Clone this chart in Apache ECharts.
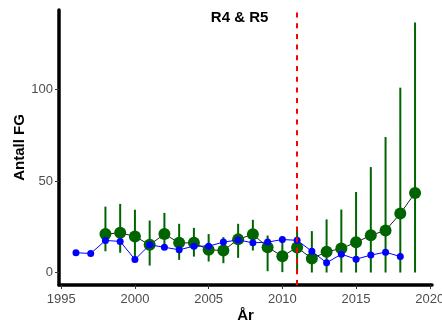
<!DOCTYPE html>
<html>
<head>
<meta charset="utf-8">
<script src="https://cdn.jsdelivr.net/npm/echarts@6/dist/echarts.min.js"></script>
<style>
html,body{margin:0;padding:0;background:#fff;}
#chart{width:442px;height:324px;}
</style>
</head>
<body>
<div id="chart"></div>
<script>
// modellert antall (grønn) med feilstolper
var greenYears = [1998,1999,2000,2001,2002,2003,2004,2005,2006,2007,2008,2009,2010,2011,2012,2013,2014,2015,2016,2017,2018,2019];
var greenEst = [21,21.7,19.7,15.1,21,16.2,16.2,12.4,12,18.1,20.9,13.8,8.9,13.7,7.6,11.3,13.1,16.5,20.3,23,32.2,43.5];
var greenLo = [11.6,10.8,6.6,3.8,14.2,6.9,8.7,6,5.1,8,12,0.7,0.2,0,0,0,0,0,0,0,0,0];
var greenHi = [36,37.5,34.3,28.4,32.6,26.6,24.4,21,19.3,26.6,28.8,20.2,17.5,23,22.6,29,34.4,44,57.6,74,101,136.6];
// observert antall (blå)
var blueYears = [1996,1997,1998,1999,2000,2001,2002,2003,2004,2005,2006,2007,2008,2009,2010,2011,2012,2013,2014,2015,2016,2017,2018];
var blueVals = [10.8,10.4,17.5,17,7.1,15.1,13.8,12.4,14.4,14.4,16.6,17.8,16.2,16.6,18,17.6,11.6,5.3,10,7.3,9.5,11.1,8.7];
// akser
var xTicks = [1995,2000,2005,2010,2015,2020];
var yTicks = [0,50,100];
var cutYear = 2011;
var noteText = 'R4 & R5';
var notePos = [2007.1, 139];

function pairs(xs, ys){
	var out = [];
	for(var i=0;i<xs.length;i++){
		out.push([xs[i], ys[i]]);
	}
	return out;
}
var errData = [];
for(var i=0;i<greenYears.length;i++){
	errData.push([greenYears[i], greenLo[i], greenHi[i]]);
}

var font = '"Liberation Sans", Arial, sans-serif';
var chart = echarts.init(document.getElementById('chart'));
var option = {
	animation:false,
	grid:{left:59, right:10, top:10, bottom:39, outerBoundsMode:'none', containLabel:false},
	xAxis:{
		type:'value', min:1994.85, max:2020.15,
		name:'År', nameLocation:'middle', nameGap:23, nameMoveOverlap:false,
		nameTextStyle:{color:'#000', fontSize:15, fontWeight:'bold', fontFamily:font},
		axisLine:{onZero:false, lineStyle:{color:'#000', width:3.5}},
		axisTick:{customValues:xTicks, length:4, lineStyle:{color:'#333', width:1}},
		axisLabel:{customValues:xTicks, color:'#4d4d4d', fontSize:13, margin:8, fontFamily:font,
			formatter:function(v){ return String(v); }},
		splitLine:{show:false}
	},
	yAxis:{
		type:'value', min:-6.83, max:143.43,
		name:'Antall FG', nameLocation:'middle', nameGap:32, nameMoveOverlap:false,
		nameTextStyle:{color:'#000', fontSize:15, fontWeight:'bold', fontFamily:font},
		axisLine:{show:true, onZero:false, lineStyle:{color:'#000', width:3.5}},
		axisTick:{show:true, customValues:yTicks, length:4, lineStyle:{color:'#333', width:1}},
		axisLabel:{customValues:yTicks, color:'#4d4d4d', fontSize:13, margin:6, fontFamily:font},
		splitLine:{show:false}
	},
	series:[
		{
			type:'custom', z:1,
			data:errData,
			renderItem:function(params, api){
				var p1 = api.coord([api.value(0), api.value(1)]);
				var p2 = api.coord([api.value(0), api.value(2)]);
				return {type:'line', shape:{x1:p1[0], y1:p1[1], x2:p2[0], y2:p2[1]},
					style:{stroke:'#006400', lineWidth:2}};
			}
		},
		{
			type:'line', z:2,
			data:pairs(greenYears, greenEst),
			symbol:'circle', symbolSize:12,
			itemStyle:{color:'#006400'},
			lineStyle:{color:'#222', width:1}
		},
		{
			type:'line', z:3,
			data:pairs(blueYears, blueVals),
			symbol:'circle', symbolSize:7,
			itemStyle:{color:'#0000ff'},
			lineStyle:{color:'#0000ff', width:1}
		},
		{
			type:'line', z:4, data:[],
			markLine:{
				silent:true, symbol:'none', label:{show:false},
				lineStyle:{color:'#ff0000', width:2, type:[5,5.7]},
				data:[{xAxis:cutYear}]
			}
		},
		{
			type:'scatter', z:5, symbolSize:0,
			data:[notePos],
			label:{show:true, position:'inside', formatter:noteText,
				color:'#000000', opacity:1, fontSize:15, fontWeight:'bold', fontFamily:font}
		}
	]
};
chart.setOption(option);
</script>
</body>
</html>
